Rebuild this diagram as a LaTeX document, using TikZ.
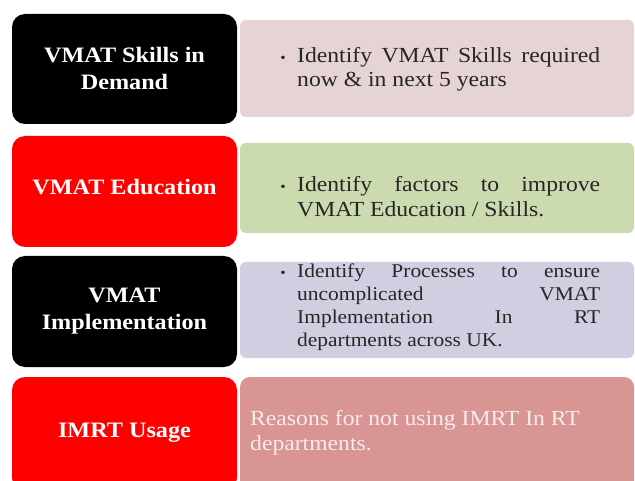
\documentclass[tikz,border=0pt]{standalone}
\usepackage{fontspec}
\setmainfont{Liberation Serif}[FakeStretch=1.1]
\definecolor{pinkbox}{HTML}{E6D3D3}
\definecolor{greenbox}{HTML}{CCDAB0}
\definecolor{lavbox}{HTML}{D2CEE2}
\definecolor{rosebox}{HTML}{D99494}
\definecolor{redbox}{HTML}{FF0000}
\definecolor{bodytext}{HTML}{262626}
\definecolor{lighttext}{HTML}{F6ECEC}
\tikzset{
  lbox/.style={rounded corners=13pt, minimum width=225pt, inner sep=0pt, draw=none},
  rbox/.style={rounded corners=6pt, minimum width=394pt, inner sep=0pt, draw=none},
  lab/.style={anchor=base, inner sep=0pt, text=white, font=\fontsize{22}{27}\selectfont\bfseries},
  body/.style={anchor=base west, inner sep=0pt, text=bodytext},
  bul/.style={anchor=base, inner sep=0pt, text=bodytext, font=\fontsize{14}{14}\selectfont},
}
\begin{document}
\begin{tikzpicture}[x=1pt,y=-1pt]
\useasboundingbox (0,0) rectangle (635,481);
\clip (0,0) rectangle (635,481);
% left boxes
\node[lbox, fill=black, minimum height=110pt] (l1) at (124.5,69) {};
\node[lbox, fill=redbox, minimum height=111pt] (l2) at (124.5,191.5) {};
\node[lbox, fill=black, minimum height=111pt] (l3) at (124.5,311.5) {};
\node[lbox, fill=redbox, minimum height=114pt] (l4) at (124.5,434) {};
% right boxes
\node[rbox, fill=pinkbox, minimum height=97pt] (r1) at (437,68.5) {};
\node[rbox, fill=greenbox, minimum height=90pt] (r2) at (437,188) {};
\node[rbox, fill=lavbox, minimum height=96pt] (r3) at (437,310) {};
\node[rbox, rounded corners=10pt, fill=rosebox, minimum height=114pt] (r4) at (437,434) {};
% left labels
\node[lab] (a1) at (124.5,63) {\parbox[t]{220pt}{\centering VMAT Skills in\\Demand}};
\node[lab] (a2) at (124.5,195) {VMAT Education};
\node[lab] (a3) at (124.5,303) {\parbox[t]{220pt}{\centering VMAT\\Implementation}};
\node[lab] (a4) at (124.5,437) {IMRT Usage};
% bullets
\node[bul] (b1) at (283,62.5) {•};
\node[bul] (b2) at (283,192) {•};
\node[bul] (b3) at (283,278) {•};
% right texts
\node[body] (t1) at (297,62.5) {\parbox[t]{303pt}{\fontsize{21.5}{24.5}\selectfont
  Identify VMAT Skills required\linebreak now \& in next 5 years}};
\node[body] (t2) at (297,192) {\parbox[t]{303pt}{\fontsize{21.5}{25}\selectfont
  Identify factors to improve\linebreak VMAT Education / Skills.}};
\node[body] (t3) at (297,278) {\parbox[t]{303pt}{\fontsize{19.5}{22.7}\selectfont
  Identify Processes to ensure\linebreak uncomplicated VMAT\linebreak Implementation In RT\linebreak departments across UK.}};
\node[body, text=lighttext] (t4) at (250,425) {\parbox[t]{380pt}{\fontsize{21.5}{25}\selectfont\raggedright
  Reasons for not using IMRT In RT\\departments.}};
\end{tikzpicture}
\end{document}
